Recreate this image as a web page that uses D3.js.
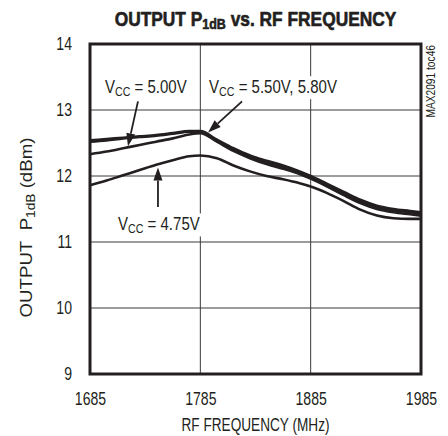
<!DOCTYPE html>
<html>
<head>
<meta charset="utf-8">
<script src="https://cdn.jsdelivr.net/npm/d3@7/dist/d3.min.js"></script>
<style>
  html, body { margin: 0; padding: 0; background: #fff; }
  svg { display: block; }
  text { font-family: "Liberation Sans", Arial, sans-serif; fill: #231f20; }
</style>
</head>
<body>
<svg id="chart" width="448" height="436"></svg>
<script>
// Frequency sweep (MHz)
const freqs = [1685, 1700, 1715, 1730, 1745, 1760, 1775, 1785, 1800, 1815, 1830, 1845, 1860, 1875, 1885, 1900, 1915, 1930, 1945, 1960, 1975, 1985];

// Output P1dB (dBm) per supply voltage
const p1dB_580 = [12.54, 12.56, 12.58, 12.60, 12.62, 12.65, 12.68, 12.68, 12.55, 12.42, 12.31, 12.23, 12.16, 12.07, 12.00, 11.88, 11.76, 11.64, 11.55, 11.50, 11.47, 11.45];
const p1dB_550 = [12.52, 12.54, 12.57, 12.59, 12.61, 12.64, 12.67, 12.67, 12.53, 12.40, 12.29, 12.21, 12.14, 12.05, 11.98, 11.86, 11.74, 11.62, 11.53, 11.48, 11.45, 11.43];
const p1dB_500 = [12.33, 12.37, 12.42, 12.47, 12.52, 12.57, 12.63, 12.65, 12.52, 12.38, 12.27, 12.18, 12.11, 12.03, 11.96, 11.84, 11.71, 11.59, 11.50, 11.45, 11.42, 11.40];
const p1dB_475 = [11.86, 11.93, 12.01, 12.09, 12.17, 12.24, 12.30, 12.31, 12.27, 12.16, 12.07, 12.00, 11.95, 11.89, 11.84, 11.74, 11.62, 11.49, 11.40, 11.36, 11.35, 11.35];

// Axis ticks
const xTicks = [1685, 1785, 1885, 1985];
const yTicks = [9, 10, 11, 12, 13, 14];

// Curve labels: text, anchor (MHz, dBm), arrow tail and tip (MHz, dBm)
const labelVolts = ["5.00V", "5.50V, 5.80V", "4.75V"];
const labelAt = [[1698.6, 13.26], [1792.9, 13.26], [1710.4, 11.18]];
const arrowFrom = [[1728.5, 13.13], [1822.8, 13.13], [1746.6, 11.53]];
const arrowTo = [[1719.4, 12.45], [1792.0, 12.66], [1746.6, 12.13]];

const series = [p1dB_580, p1dB_550, p1dB_500, p1dB_475];

const W = 448, H = 436;
const margin = { top: 44, right: 27, bottom: 62, left: 90 };
const NARROW = 0.76; // horizontal squeeze for the condensed lettering
const svg = d3.select("#chart");

const x = d3.scaleLinear().domain([1685, 1985]).range([margin.left, W - margin.right]);
const y = d3.scaleLinear().domain([9, 14]).range([H - margin.bottom, margin.top]);

// Places a text in a group at (px, py) with optional rotation and squeezes it to a width.
function fittedText(parent, px, py, rot, width, anchor, build) {
  const g = parent.append("g").attr("transform", `translate(${px},${py}) rotate(${rot})`);
  const t = g.append("text").attr("text-anchor", anchor);
  build(t);
  const w = t.node().getBBox().width;
  t.attr("transform", `scale(${width / w},1)`);
  return t;
}

// Grid
const grid = svg.append("g").attr("stroke", "#3a3a3a").attr("stroke-width", 1);
grid.selectAll("line.v").data(xTicks.slice(1, -1)).join("line")
  .attr("x1", d => x(d)).attr("x2", d => x(d))
  .attr("y1", y(9)).attr("y2", y(14));
grid.selectAll("line.h").data(yTicks.slice(1, -1)).join("line")
  .attr("x1", x(1685)).attr("x2", x(1985))
  .attr("y1", d => y(d)).attr("y2", d => y(d));

// Tick labels
const xAxis = d3.axisBottom(x).tickValues(xTicks).tickSize(0).tickFormat(d3.format("d"));
const yAxis = d3.axisLeft(y).tickValues(yTicks).tickSize(0).tickFormat(d3.format("d"));
const gx = svg.append("g").attr("transform", `translate(0,${y(9)})`).call(xAxis);
const gy = svg.append("g").attr("transform", `translate(${x(1685)},0)`).call(yAxis);
[gx, gy].forEach(g => {
  g.select(".domain").remove();
  g.attr("font-family", null).attr("font-size", null);
});
gx.selectAll("text").attr("y", 0).attr("dy", 0)
  .attr("font-size", 18.5).attr("fill", "#231f20")
  .attr("transform", `translate(0,31) scale(${NARROW},1)`);
gy.selectAll("text").attr("x", 0)
  .attr("font-size", 18.5).attr("fill", "#231f20")
  .attr("transform", `translate(-18,0) scale(${NARROW},1)`);

// Curves
const line = d3.line().x((d, i) => x(freqs[i])).y(d => y(d)).curve(d3.curveMonotoneX);
svg.append("g").selectAll("path").data(series).join("path")
  .attr("d", line)
  .attr("fill", "none")
  .attr("stroke", "#231f20")
  .attr("stroke-width", 2.6)
  .attr("stroke-linejoin", "round");

// Labels with white backing
const labels = svg.append("g");
labelVolts.forEach((v, i) => {
  const g = labels.append("g")
    .attr("transform", `translate(${x(labelAt[i][0])},${y(labelAt[i][1])}) scale(0.79,1)`);
  const t = g.append("text").attr("font-size", 19);
  t.append("tspan").text("V");
  t.append("tspan").attr("font-size", 13.5).attr("dy", 3).text("CC");
  t.append("tspan").attr("dy", -3).text(" = " + v);
  const bb = t.node().getBBox();
  g.insert("rect", "text")
    .attr("x", bb.x - 4).attr("y", bb.y)
    .attr("width", bb.width + 8).attr("height", bb.height)
    .attr("fill", "#fff");
});

// Arrows
const arrows = svg.append("g").attr("fill", "#231f20").attr("stroke", "#231f20");
arrowFrom.forEach((a, i) => {
  const x0 = x(a[0]), y0 = y(a[1]);
  const x1 = x(arrowTo[i][0]), y1 = y(arrowTo[i][1]);
  const ang = Math.atan2(y1 - y0, x1 - x0);
  const len = 13, half = 4.5;
  const bx = x1 - len * Math.cos(ang), by = y1 - len * Math.sin(ang);
  arrows.append("line").attr("x1", x0).attr("y1", y0).attr("x2", bx).attr("y2", by).attr("stroke-width", 1.8);
  const px = -Math.sin(ang) * half, py = Math.cos(ang) * half;
  arrows.append("path").attr("stroke", "none")
    .attr("d", `M${x1},${y1}L${bx + px},${by + py}L${bx - px},${by - py}Z`);
});

// Frame
svg.append("rect")
  .attr("x", x(1685)).attr("y", y(14))
  .attr("width", x(1985) - x(1685)).attr("height", y(9) - y(14))
  .attr("fill", "none").attr("stroke", "#231f20").attr("stroke-width", 3);

// Title (heavy condensed)
fittedText(svg, (x(1685) + x(1985)) / 2, 25.5, 0, 282, "middle", t => {
  t.attr("font-size", 19.5).attr("font-weight", "bold")
    .attr("stroke", "#231f20").attr("stroke-width", 0.6).attr("stroke-linejoin", "round");
  t.append("tspan").text("OUTPUT P");
  t.append("tspan").attr("font-size", 14).attr("dy", 3).text("1dB");
  t.append("tspan").attr("dy", -3).text(" vs. RF FREQUENCY");
});

// Axis titles
fittedText(svg, (x(1685) + x(1985)) / 2, 431, 0, 148, "middle", t => {
  t.attr("font-size", 18.5).text("RF FREQUENCY (MHz)");
});
fittedText(svg, 32, 227.5, -90, 180, "middle", t => {
  t.attr("font-size", 17);
  t.append("tspan").text("OUTPUT\u00a0\u00a0P");
  t.append("tspan").attr("font-size", 12.5).attr("dy", 3).text("1dB");
  t.append("tspan").attr("dy", -3).text(" (dBm)");
});

// Figure tag
fittedText(svg, 435, 45, -90, 73, "end", t => {
  t.attr("font-size", 12).text("MAX2091 toc46");
});
</script>
</body>
</html>
